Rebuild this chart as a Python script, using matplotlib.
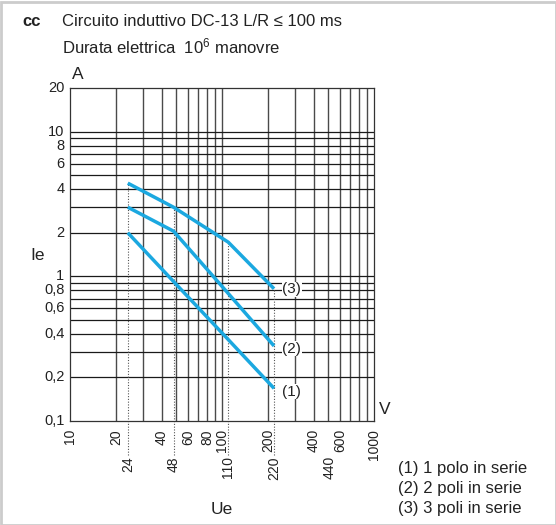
import matplotlib
matplotlib.use("Agg")
import matplotlib.pyplot as plt
from matplotlib.patches import Rectangle

plt.rcParams['font.family'] = ['Liberation Sans', 'DejaVu Sans']
plt.rcParams['mathtext.fontset'] = 'custom'
plt.rcParams['mathtext.rm'] = 'Liberation Sans'
plt.rcParams['mathtext.it'] = 'Liberation Sans:italic'

# ---- data ----
voltages = [24, 48, 110, 220]
curve1 = [2.0, 0.92, 0.365, 0.168]   # (1) 1 polo in serie
curve2 = [3.0, 2.05, 0.76, 0.33]     # (2) 2 poli in serie
curve3 = [4.4, 3.0, 1.72, 0.82]      # (3) 3 poli in serie
curve_names = ["(1)", "(2)", "(3)"]
legend_lines = ["(1) 1 polo in serie", "(2) 2 poli in serie", "(3) 3 poli in serie"]

x_ticks_main = [10, 20, 40, 60, 80, 100, 200, 400, 600, 1000]
x_ticks_extra = [24, 48, 110, 220, 440]
x_ticks_extra_pos = [24, 48, 110, 220, 510]
y_ticks = [0.1, 0.2, 0.4, 0.6, 0.8, 1, 2, 4, 6, 8, 10, 20]
y_tick_labels = ["0,1", "0,2", "0,4", "0,6", "0,8", "1", "2", "4", "6", "8", "10", "20"]

x_grid = [20, 30, 40, 50, 60, 70, 80, 90, 100, 200, 300, 400, 500, 600, 700, 800, 900]
y_grid = [0.2, 0.3, 0.4, 0.5, 0.6, 0.7, 0.8, 0.9, 1, 2, 3, 4, 5, 6, 7, 8, 9, 10]

W, H = 556, 525
fig = plt.figure(figsize=(W / 100, H / 100), dpi=100)
fig.patch.set_facecolor('white')
ax = fig.add_axes([70 / W, (H - 421) / H, 304 / W, 333 / H])
ax.set_xscale('log')
ax.set_yscale('log')
ax.set_xlim(10, 1000)
ax.set_ylim(0.1, 20)

for xv in x_grid:
    ax.axvline(xv, color='#4a4a4a', lw=1.0, zorder=1)
for yv in y_grid:
    ax.axhline(yv, color='#1a1a1a', lw=0.9, zorder=1)
for s in ax.spines.values():
    s.set_color('#333333')
    s.set_linewidth(0.9)

ax.set_xticks([])
ax.set_yticks([])
ax.minorticks_off()
ax.tick_params(which='both', length=0, labelbottom=False, labelleft=False)

blue = '#1ba8e0'
curves = [curve1, curve2, curve3]
for c in curves:
    ax.plot(voltages, c, color=blue, lw=2.5, solid_capstyle='butt', zorder=3)

# dotted reference lines (from top curve down to below axis)
bottom_ext = 0.1 * 10 ** (-(455 - 421) / 144.7)
for v, top in zip(voltages, curve3):
    ax.plot([v, v], [bottom_ext, top], color='#555555', lw=0.8,
            linestyle=(0, (1, 1.5)), clip_on=False, zorder=2)

# curve labels
for name, c, dy in zip(curve_names, curves, [0.95, 0.96, 0.99]):
    ax.text(250, c[-1] * dy, name, fontsize=11, ha='left', va='center',
            color='#222222', zorder=4,
            bbox=dict(facecolor='white', edgecolor='none', pad=0.5))

# tick labels
for xv in x_ticks_main:
    ax.text(xv, 0.1 * 10 ** (-(429 - 421) / 144.7), str(xv), rotation=90,
            ha='center', va='top', fontsize=10, color='#222222', clip_on=False)
for xv, lbl in zip(x_ticks_extra_pos, x_ticks_extra):
    ax.text(xv, 0.1 * 10 ** (-(456 - 421) / 144.7), str(lbl), rotation=90,
            ha='center', va='top', fontsize=10, color='#222222', clip_on=False)
for yv, lbl in zip(y_ticks, y_tick_labels):
    ax.text(9.2, yv, lbl, ha='right', va='center', fontsize=10.5,
            color='#222222', clip_on=False)

# axis unit labels
fig.text(78 / W, 1 - 75 / H, "A", fontsize=12.5, ha='center', va='center', color='#222222')
fig.text(385 / W, 1 - 410 / H, "V", fontsize=12.5, ha='center', va='center', color='#222222')
fig.text(38 / W, 1 - 256 / H, "Ie", fontsize=12.5, ha='center', va='center', color='#222222')
fig.text(222 / W, 1 - 510 / H, "Ue", fontsize=12.5, ha='center', va='center', color='#222222')

# header
fig.text(22 / W, 1 - 22 / H, "cc", fontsize=12, fontweight='bold', ha='left', va='center', color='#222222')
fig.text(62 / W, 1 - 21 / H, "Circuito induttivo DC-13 L/R \u2264 100 ms", fontsize=12,
         ha='left', va='center', color='#222222')
fig.text(62 / W, 1 - 46 / H, "Durata elettrica  10$^{6}$ manovre", fontsize=12,
         ha='left', va='center', color='#222222')

# legend
for i, line in enumerate(legend_lines):
    fig.text(398 / W, 1 - (469 + i * 20) / H, line, fontsize=12, ha='left', va='center',
             color='#222222')

# outer light frame
fig.add_artist(Rectangle((1 / W, 0), (W - 1) / W, (H - 2) / H, transform=fig.transFigure,
                         fill=False, edgecolor='#cccccc', lw=2))

fig.savefig("out.png", dpi=100, facecolor='white')
